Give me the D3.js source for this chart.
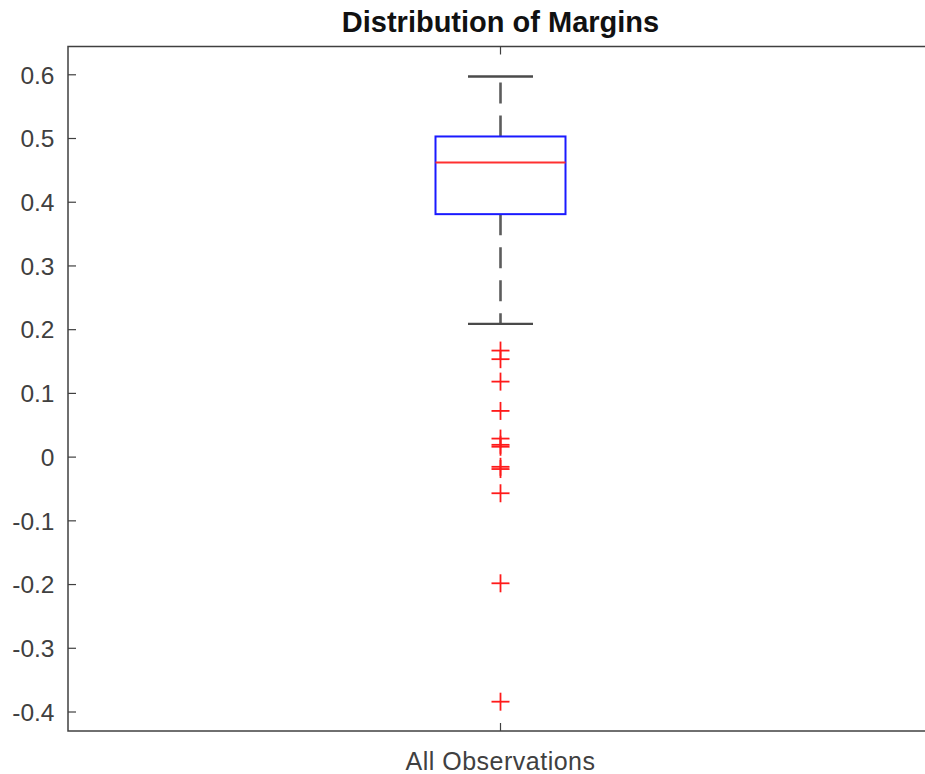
<!DOCTYPE html>
<html>
<head>
<meta charset="utf-8">
<script src="https://cdn.jsdelivr.net/npm/d3@7"></script>
<style>
  html, body { margin: 0; padding: 0; background: #fff; overflow: hidden; }
  text { font-family: "Liberation Sans", Arial, Helvetica, sans-serif; }
</style>
</head>
<body>
<svg id="chart" width="925" height="774"></svg>
<script>
// ---- Data ----
const categories = ["All Observations"];
const boxStats = { q1: 0.3805, median: 0.4615, q3: 0.5024, whiskerLow: 0.2083, whiskerHigh: 0.5966 };
const outliers = [0.1664, 0.1529, 0.1177, 0.0717, 0.0283, 0.0185, 0.0155, -0.0160, -0.0195, -0.0575, -0.1988, -0.3846];
const yTicks = [0.6, 0.5, 0.4, 0.3, 0.2, 0.1, 0, -0.1, -0.2, -0.3, -0.4];
const yDomain = [-0.4306, 0.6436];
const titleText = "Distribution of Margins";

// ---- Layout ----
const svg = d3.select("#chart");
const mLeft = 68, mRight = 933, mTop = 46.5, mBottom = 731;

const y = d3.scaleLinear().domain(yDomain).range([mBottom, mTop]);
const x = d3.scaleBand().domain(categories).range([mLeft, mRight]);
const cx = x(categories[0]) + x.bandwidth() / 2;
const boxHalf = 65, capHalf = 32.5;

const axisColor = "#404040";
const labelFont = "Liberation Sans, Arial, sans-serif";

// frame
svg.append("rect")
  .attr("x", mLeft).attr("y", mTop)
  .attr("width", mRight - mLeft).attr("height", mBottom - mTop)
  .attr("fill", "none").attr("stroke", axisColor).attr("stroke-width", 1.5);

// left axis
const yAxisL = svg.append("g").attr("transform", `translate(${mLeft},0)`)
  .call(d3.axisLeft(y).tickValues(yTicks).tickSize(-8).tickPadding(13.5)
        .tickFormat(d => d === 0 ? "0" : String(+d.toFixed(1))));
yAxisL.select(".domain").remove();
yAxisL.selectAll("line").attr("stroke", axisColor).attr("stroke-width", 1.2);
yAxisL.selectAll("text").attr("fill", "#404040").attr("font-size", 24.5)
  .attr("font-family", labelFont).attr("dy", "0.36em");

// right axis ticks
const yAxisR = svg.append("g").attr("transform", `translate(${mRight},0)`)
  .call(d3.axisRight(y).tickValues(yTicks).tickSize(-8).tickFormat(""));
yAxisR.select(".domain").remove();
yAxisR.selectAll("line").attr("stroke", axisColor).attr("stroke-width", 1.2);

// bottom axis
const xAxisB = svg.append("g").attr("transform", `translate(0,${mBottom})`)
  .call(d3.axisBottom(x).tickSize(-8).tickPadding(21));
xAxisB.select(".domain").remove();
xAxisB.selectAll("line").attr("stroke", axisColor).attr("stroke-width", 1.2);
xAxisB.selectAll("text").attr("fill", "#404040").attr("font-size", 25)
  .attr("letter-spacing", "0.5px")
  .attr("font-family", labelFont);

// top axis tick
const xAxisT = svg.append("g").attr("transform", `translate(0,${mTop})`)
  .call(d3.axisTop(x).tickSize(-8).tickFormat(""));
xAxisT.select(".domain").remove();
xAxisT.selectAll("line").attr("stroke", axisColor).attr("stroke-width", 1.2);

// whiskers (dashed)
const whiskerColor = "#5c5c5c";
svg.append("line")
  .attr("x1", cx).attr("x2", cx)
  .attr("y1", y(boxStats.q3)).attr("y2", y(boxStats.whiskerHigh))
  .attr("stroke", whiskerColor).attr("stroke-width", 2.6).attr("stroke-dasharray", "21,12");
svg.append("line")
  .attr("x1", cx).attr("x2", cx)
  .attr("y1", y(boxStats.q1)).attr("y2", y(boxStats.whiskerLow))
  .attr("stroke", whiskerColor).attr("stroke-width", 2.6).attr("stroke-dasharray", "21,12");

// caps
[boxStats.whiskerHigh, boxStats.whiskerLow].forEach(v => {
  svg.append("line")
    .attr("x1", cx - capHalf).attr("x2", cx + capHalf)
    .attr("y1", y(v)).attr("y2", y(v))
    .attr("stroke", "#4a4a4a").attr("stroke-width", 2.4);
});

// box
svg.append("rect")
  .attr("x", cx - boxHalf).attr("y", y(boxStats.q3))
  .attr("width", boxHalf * 2).attr("height", y(boxStats.q1) - y(boxStats.q3))
  .attr("fill", "none").attr("stroke", "#1a1aff").attr("stroke-width", 2);

// median
svg.append("line")
  .attr("x1", cx - boxHalf).attr("x2", cx + boxHalf)
  .attr("y1", y(boxStats.median)).attr("y2", y(boxStats.median))
  .attr("stroke", "#ff3030").attr("stroke-width", 2);

// outliers (+)
const ms = 9;
const g = svg.append("g");
outliers.forEach(v => {
  g.append("line").attr("x1", cx - ms).attr("x2", cx + ms)
    .attr("y1", y(v)).attr("y2", y(v))
    .attr("stroke", "#ff1a1a").attr("stroke-width", 1.8);
  g.append("line").attr("x1", cx).attr("x2", cx)
    .attr("y1", y(v) - ms).attr("y2", y(v) + ms)
    .attr("stroke", "#ff1a1a").attr("stroke-width", 1.8);
});

// title
svg.append("text")
  .attr("x", cx).attr("y", 31.5)
  .attr("text-anchor", "middle")
  .attr("font-size", 29).attr("font-weight", "bold").attr("fill", "#111")
  .text(titleText);
</script>
</body>
</html>
